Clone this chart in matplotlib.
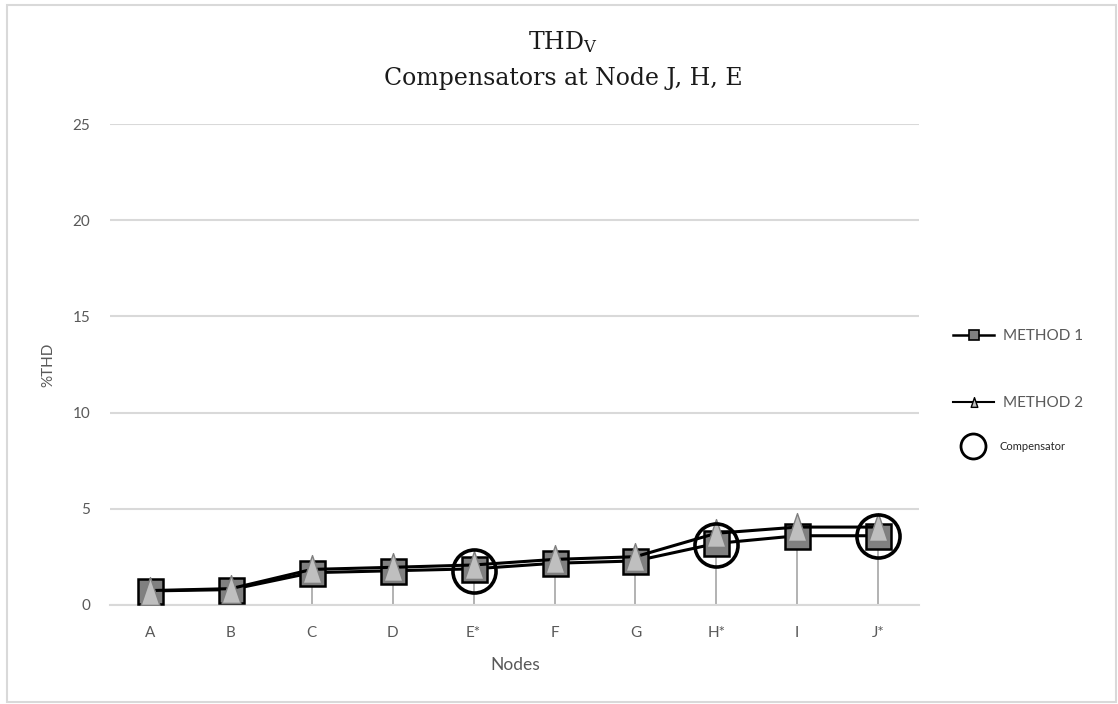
import matplotlib
matplotlib.use("Agg")
import matplotlib.pyplot as plt
from matplotlib.lines import Line2D
from matplotlib.patches import Rectangle
from matplotlib.path import Path

nodes = ['A', 'B', 'C', 'D', 'E*', 'F', 'G', 'H*', 'I', 'J*']
method1 = [0.73, 0.80, 1.68, 1.78, 1.88, 2.17, 2.29, 3.20, 3.60, 3.60]
method2 = [0.75, 0.85, 1.85, 1.96, 2.08, 2.37, 2.51, 3.73, 4.05, 4.05]
comp_nodes = ['E*', 'H*', 'J*']
comp_level = [1.75, 3.10, 3.60]
y_ticks = [0, 5, 10, 15, 20, 25]

plt.rcParams['mathtext.fontset'] = 'dejavuserif'
W, H = 1118, 704
fig = plt.figure(figsize=(W / 100, H / 100), dpi=100)
ax = fig.add_axes([109.6 / W, (H - 605) / H, 809 / W, 481 / H])

x = list(range(len(nodes)))
tri = Path([(0, 1), (-0.68, -1), (0.68, -1), (0, 1)],
           [Path.MOVETO, Path.LINETO, Path.LINETO, Path.CLOSEPOLY])

# drop lines
tops = [max(a, b) for a, b in zip(method1, method2)]
ax.vlines(x, 0, tops, color='#a6a6a6', lw=1.2, zorder=1)

ax.plot(x, method1, color='black', lw=2.2, marker='s', markersize=18,
        markerfacecolor='#808080', markeredgecolor='black', markeredgewidth=1.8, zorder=3)
ax.plot(x, method2, color='black', lw=2.2, marker=tri, markersize=20,
        markerfacecolor='#bfbfbf', markeredgecolor='#7f7f7f', markeredgewidth=1.0, zorder=4)

cx = [nodes.index(n) for n in comp_nodes]
ax.plot(cx, comp_level, linestyle='none', marker='o', markersize=31,
        markerfacecolor='none', markeredgecolor='black', markeredgewidth=2.6, zorder=5)

ax.set_xlim(-0.5, len(nodes) - 0.5)
ax.set_ylim(0, 25)
ax.set_yticks(y_ticks)
ax.set_xticks(x)
ax.set_xticklabels(nodes)
ax.grid(axis='y', color='#d9d9d9', lw=1.5)
ax.set_axisbelow(True)
for s in ['left', 'right', 'top']:
    ax.spines[s].set_visible(False)
ax.spines['bottom'].set_color('#d9d9d9')
ax.spines['bottom'].set_linewidth(1.5)
ax.tick_params(axis='both', length=0, labelsize=11, labelcolor='#595959')
ax.tick_params(axis='x', pad=15)
ax.tick_params(axis='y', pad=14)
for lab in ax.get_xticklabels() + ax.get_yticklabels():
    lab.set_fontfamily('Lato')

fig.text(48 / W, 1 - 365 / H, '%THD', rotation=90, ha='center', va='center',
         fontsize=11, color='#595959', family='Lato')
fig.text(515 / W, 1 - 665 / H, 'Nodes', ha='center', va='center',
         fontsize=12.5, color='#595959', family='Lato')
fig.text(563 / W, 1 - 42 / H, r'THD$_\mathrm{V}$', ha='center', va='center',
         fontsize=17, color='#1a1a1a', family='DejaVu Serif')
fig.text(563 / W, 1 - 78 / H, 'Compensators at Node J, H, E', ha='center', va='center',
         fontsize=17, color='#1a1a1a', family='DejaVu Serif')

# legend entries
h1 = Line2D([], [], color='black', lw=1.8, marker='s', markersize=7,
            markerfacecolor='#808080', markeredgecolor='black', markeredgewidth=1.2)
h2 = Line2D([], [], color='black', lw=1.5, marker=tri, markersize=7,
            markerfacecolor='#bfbfbf', markeredgecolor='black', markeredgewidth=1.0)
h3 = Line2D([], [], linestyle='none', marker='o', markersize=18,
            markerfacecolor='none', markeredgecolor='black', markeredgewidth=2.0)
specs = [(h1, 'METHOD 1', 336, 11, '#595959', 2.7),
         (h2, 'METHOD 2', 403, 11, '#595959', 2.7),
         (h3, 'Compensator', 446, 8, '#262626', 3.6)]
for h, lab, yy, fs, col, hl in specs:
    leg = fig.legend([h], [lab], loc='center left',
                     bbox_to_anchor=(953 / W, 1 - yy / H), frameon=False,
                     borderpad=0, borderaxespad=0, handlelength=hl,
                     handletextpad=0.6, prop={'family': 'Lato', 'size': fs})
    for t in leg.get_texts():
        t.set_color(col)

fig.patches.append(Rectangle((7 / W, 2 / H), (1116 - 7) / W, (702 - 5) / H,
                             transform=fig.transFigure, fill=False,
                             edgecolor='#d9d9d9', lw=1.5))

fig.savefig('out.png', dpi=100)
